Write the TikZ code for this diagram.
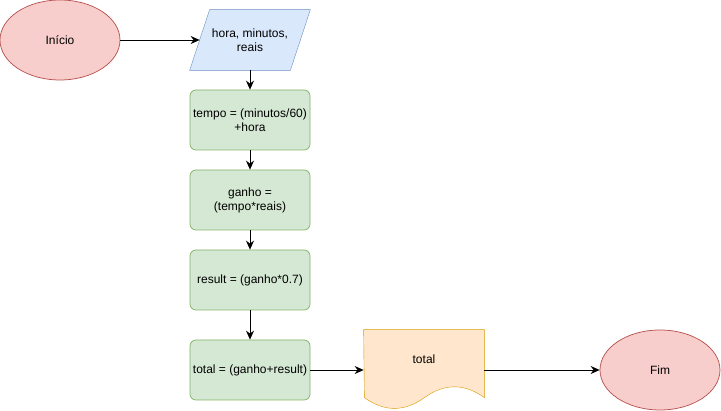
\documentclass[tikz,border=0pt]{standalone}
\usepackage{fontspec}
\setmainfont{Liberation Sans}
\usetikzlibrary{shapes.geometric, positioning, arrows.meta, backgrounds}
\definecolor{redfill}{HTML}{F8CECC}
\definecolor{redline}{HTML}{B85450}
\definecolor{bluefill}{HTML}{DAE8FC}
\definecolor{blueline}{HTML}{6C8EBF}
\definecolor{greenfill}{HTML}{D5E8D4}
\definecolor{greenline}{HTML}{82B366}
\definecolor{orangefill}{HTML}{FFE6CC}
\definecolor{orangeline}{HTML}{D79B00}

\begin{document}
\begin{tikzpicture}[x=1pt,y=-1pt,node distance=80pt,on grid,line width=0.75pt,
  >={Stealth[length=9pt,width=8pt,inset=3pt]},
  every node/.style={font=\fontsize{12}{14}\selectfont, align=center},
  term/.style={ellipse, draw=redline, fill=redfill, minimum width=120pt, minimum height=80pt},
  iobox/.style={rectangle, minimum width=120pt, minimum height=60pt, inner sep=0pt},
  ioline/.style={draw=blueline, fill=bluefill},
  proc/.style={rectangle, rounded corners=6pt, draw=greenline, fill=greenfill,
    minimum width=120pt, minimum height=60pt, inner sep=1pt},
  docbox/.style={rectangle, minimum width=120pt, minimum height=58pt, inner sep=0pt},
  docline/.style={draw=orangeline, fill=orangefill}]
  \useasboundingbox (0,0) rectangle (721,411);
  \node[term] (ini) at (60,40) {Início};
  \node[iobox] (in) [right=190pt of ini] {hora, minutos,\\reais};
  \node[proc] (tempo) [below=of in] {tempo = (minutos/60)\\+hora};
  \node[proc] (ganho) [below=of tempo] {ganho =\\(tempo*reais)};
  \node[proc] (result) [below=of ganho] {result = (ganho*0.7)};
  \node[proc] (total) [below=90pt of result] {total = (ganho+result)};
  \node[docbox] (out) [above right=11pt and 174pt of total] {total};
  \node[term] (fim) [right=410pt of total] {Fim};
  % parallelogram and document shape
  \begin{scope}[on background layer]
    \filldraw[ioline] ([xshift=20pt]in.north west) -- (in.north east)
      -- ([xshift=-20pt]in.south east) -- (in.south west) -- cycle;
    \filldraw[docline] (out.north west) -- (out.north east) -- ++(0,68)
      .. controls +(-20,-14.4) and +(20,-14.4) .. ++(-60,0)
      .. controls +(-20,14.4) and +(20,14.4) .. ++(-60,0) -- cycle;
  \end{scope}
  \path[->]
    (in) edge (tempo)
    (tempo) edge (ganho)
    (ganho) edge (result)
    (result) edge (total);
  \draw[->] (ini) -- ([xshift=10pt]in.west);
  \draw[->] (total) -- (total -| out.west);
  \draw[->] (out.east |- fim) -- (fim);
\end{tikzpicture}
\end{document}
